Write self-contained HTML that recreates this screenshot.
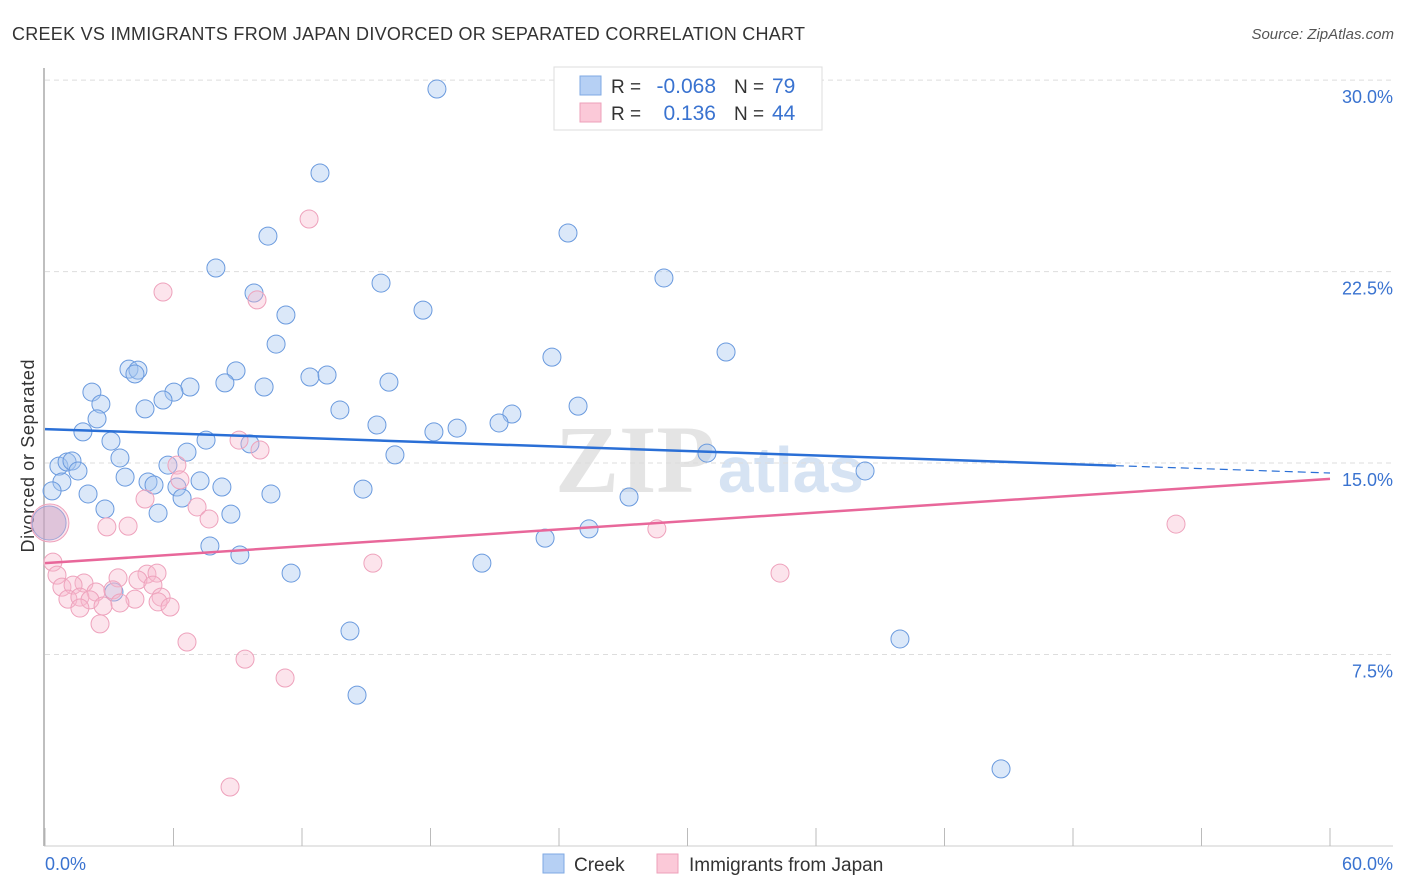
<!DOCTYPE html>
<html><head><meta charset="utf-8"><style>
body{margin:0;background:#fff;font-family:"Liberation Sans",sans-serif;}
svg{display:block}
</style></head><body>
<svg id="chart" width="1406" height="892">
<text x="12" y="40" font-size="18" fill="#333" textLength="793">CREEK VS IMMIGRANTS FROM JAPAN DIVORCED OR SEPARATED CORRELATION CHART</text>
<text x="1394" y="39" font-size="15" fill="#555" font-style="italic" text-anchor="end">Source: ZipAtlas.com</text>
<text x="555" y="492" font-size="96" fill="#e4e4e4" font-family="Liberation Serif" font-weight="bold">ZIP</text>
<text x="718" y="492" font-size="64" fill="#d6e3f3" font-weight="bold">atlas</text>
<g id="grid"></g>
<line x1="44" y1="68" x2="44" y2="846" stroke="#aaa" stroke-width="1.5"/>
<line x1="44" y1="846" x2="1393" y2="846" stroke="#ccc"/>
<g id="xticks"></g>
<text x="34" y="456" font-size="18" fill="#333" text-anchor="middle" textLength="193" transform="rotate(-90 34 456)">Divorced or Separated</text>
<text x="45" y="870" font-size="18" fill="#3a73d0">0.0%</text>
<text x="1393" y="870" font-size="18" fill="#3a73d0" text-anchor="end">60.0%</text>
<g id="points"></g>
<g id="trends"></g>
<g>
<rect x="554" y="67" width="268" height="63" fill="#fff" stroke="#ddd"/>
<rect x="580" y="76" width="21" height="19" fill="#b6d0f4" stroke="#7fa9e3"/>
<rect x="580" y="103" width="21" height="19" fill="#fbc9d8" stroke="#eea0ba"/>
<text x="611" y="93" font-size="19" fill="#333">R =</text>
<text x="716" y="93" font-size="21" fill="#3a73d0" text-anchor="end">-0.068</text>
<text x="734" y="93" font-size="19" fill="#333">N =</text>
<text x="772" y="93" font-size="21" fill="#3a73d0">79</text>
<text x="611" y="120" font-size="19" fill="#333">R =</text>
<text x="716" y="120" font-size="21" fill="#3a73d0" text-anchor="end">0.136</text>
<text x="734" y="120" font-size="19" fill="#333">N =</text>
<text x="772" y="120" font-size="21" fill="#3a73d0">44</text>
</g>
<g>
<rect x="543" y="854" width="21" height="19" fill="#b6d0f4" stroke="#7fa9e3"/>
<text x="574" y="871" font-size="19" fill="#333">Creek</text>
<rect x="657" y="854" width="21" height="19" fill="#fbc9d8" stroke="#eea0ba"/>
<text x="689" y="871" font-size="19" fill="#333">Immigrants from Japan</text>
</g>
</svg>
<script>
const yTicks=[7.5,15,22.5,30];
const yTickLabels=["7.5%","15.0%","22.5%","30.0%"];
const xTicks=[0,6,12,18,24,30,36,42,48,54,60];
const creekX=[18.30,12.84,10.41,24.42,7.98,28.90,15.69,9.76,11.25,17.65,10.79,23.67,31.80,3.92,4.34,4.20,8.92,12.37,13.17,8.40,6.77,10.23,16.06,2.19,6.02,5.51,2.61,4.67,13.77,24.89,21.80,2.43,15.50,21.20,18.16,19.24,1.77,3.08,7.52,9.57,6.63,16.34,30.91,3.50,0.65,1.03,1.26,5.74,1.54,38.29,3.74,0.79,4.81,5.09,7.24,6.16,8.26,14.85,0.33,2.01,10.55,6.40,27.27,2.80,5.28,8.68,25.40,23.35,7.70,9.10,20.40,11.49,3.22,14.24,39.92,14.57,44.64,0.19];
const creekY=[29.65,26.36,23.89,24.01,22.64,22.25,22.05,21.66,20.80,20.99,19.66,19.15,19.35,18.68,18.64,18.49,18.61,18.37,18.45,18.14,17.98,17.98,18.17,17.78,17.78,17.47,17.31,17.12,17.08,17.23,16.92,16.73,16.49,16.57,16.22,16.37,16.22,15.86,15.90,15.75,15.43,15.32,15.39,15.20,14.88,15.04,15.08,14.92,14.69,14.69,14.45,14.26,14.26,14.14,14.30,14.06,14.06,13.98,13.91,13.79,13.79,13.63,13.67,13.20,13.04,13.00,12.42,12.06,11.75,11.40,11.08,10.69,9.95,8.42,8.11,5.91,3.02,12.65];
const japanX=[12.33,5.51,9.90,9.06,10.04,6.16,6.30,4.67,7.10,7.66,2.89,3.88,0.23,28.57,52.81,15.31,0.37,0.56,34.32,3.41,4.76,5.23,4.34,1.82,0.79,1.31,2.38,3.17,5.04,1.07,1.63,2.10,4.20,5.42,2.71,3.50,5.28,5.84,1.63,2.57,6.63,9.34,11.21,8.64];
const japanY=[24.56,21.70,21.39,15.90,15.51,14.92,14.34,13.59,13.28,12.81,12.50,12.53,12.65,12.42,12.61,11.08,11.12,10.61,10.69,10.50,10.65,10.69,10.42,10.30,10.14,10.22,9.95,10.03,10.22,9.67,9.75,9.64,9.67,9.75,9.40,9.52,9.56,9.36,9.32,8.70,7.99,7.32,6.58,2.31];
const creekTrend=[16.33,14.61];
const japanTrend=[11.08,14.38];
const NS="http://www.w3.org/2000/svg";
const sx=v=>45+v*(1285/60);
const sy=v=>846-v*25.53;
function mk(tag,attrs,parent){const e=document.createElementNS(NS,tag);for(const k in attrs)e.setAttribute(k,attrs[k]);document.getElementById(parent).appendChild(e);return e;}
yTicks.forEach((t,i)=>{
  const l=mk('line',{x1:45,x2:1393,y1:sy(t),y2:sy(t),stroke:'#ddd','stroke-dasharray':'5,4'},'grid');
  
  
  const tx=mk('text',{x:1393,y:sy(t)+23,'font-size':18,fill:'#3a73d0','text-anchor':'end'},'grid');
  tx.textContent=yTickLabels[i];
  
  
});
xTicks.forEach(t=>{
  const l=mk('line',{x1:sx(t),x2:sx(t),y1:828,y2:846,stroke:'#bbb'},'xticks');
  
  
});
creekX.forEach((v,i)=>{
  const big=i===creekX.length-1;
  const c=mk('circle',{cx:sx(v),cy:sy(creekY[i]),r:big?17:9,fill:big?'rgba(150,140,190,0.45)':'rgba(165,198,240,0.4)',stroke:'#6a9ade','stroke-width':1},'points');
  
  
});
japanX.forEach((v,i)=>{
  const big=i===12;
  const c=mk('circle',{cx:sx(v),cy:sy(japanY[i]),r:big?19:9,fill:'rgba(248,185,205,0.38)',stroke:'#eea2bc','stroke-width':1},'points');
  
  
});
const cAt=x=>creekTrend[0]+(creekTrend[1]-creekTrend[0])*x/60;
let l1=mk('line',{x1:sx(0),y1:sy(cAt(0)),x2:sx(50),y2:sy(cAt(50)),stroke:'#2a6fd6','stroke-width':2.5},'trends');


let l2=mk('line',{x1:sx(50),y1:sy(cAt(50)),x2:sx(60),y2:sy(cAt(60)),stroke:'#2a6fd6','stroke-width':1.2,'stroke-dasharray':'8,5'},'trends');


let l3=mk('line',{x1:sx(0),y1:sy(japanTrend[0]),x2:sx(60),y2:sy(japanTrend[1]),stroke:'#e8679a','stroke-width':2.5},'trends');


</script>
</body></html>
